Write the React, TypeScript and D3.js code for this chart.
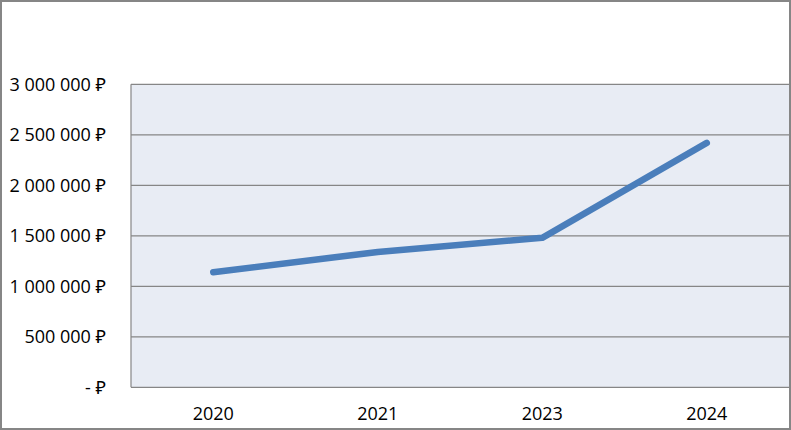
import React from "react";
import * as d3 from "d3";

const years = ["2020", "2021", "2023", "2024"];
const values = [1140000, 1340000, 1480000, 2420000];
const yTicks = [0, 500000, 1000000, 1500000, 2000000, 2500000, 3000000];

const W = 791;
const H = 430;
const plot = { left: 131, right: 789, top: 84.3, bottom: 387.3 };

const fmt = (v: number) =>
  v === 0 ? "- ₽" : d3.format(",")(v).replace(/,/g, " ") + " ₽";

export default function App() {
  const x = d3
    .scaleBand<string>()
    .domain(years)
    .range([plot.left, plot.right])
    .padding(0);
  const y = d3.scaleLinear().domain([0, 3000000]).range([plot.bottom, plot.top]);
  const line = d3
    .line<number>()
    .x((_, i) => (x(years[i]) as number) + x.bandwidth() / 2)
    .y((d) => y(d));
  const font = "'Open Sans', 'Noto Sans', sans-serif";
  return (
    <svg
      width={W}
      height={H}
      style={{ position: "absolute", left: 0, top: 0 }}
    >
      <rect x={0} y={0} width={W} height={H} fill="#fff" />
      <rect
        x={plot.left}
        y={plot.top}
        width={plot.right - plot.left}
        height={plot.bottom - plot.top}
        fill="#E8ECF4"
      />
      {yTicks.map((t) => (
        <g key={t}>
          <line
            x1={plot.left}
            x2={plot.right}
            y1={y(t)}
            y2={y(t)}
            stroke="#868686"
            strokeWidth={1.2}
          />
          <text
            x={106}
            y={y(t) + 6.5}
            textAnchor="end"
            fontFamily={font}
            fontSize={18}
            fill="#000"
          >
            {fmt(t)}
          </text>
        </g>
      ))}
      <line
        x1={plot.left}
        x2={plot.left}
        y1={plot.top}
        y2={plot.bottom}
        stroke="#868686"
        strokeWidth={1.2}
      />
      {years.map((yr) => (
        <text
          key={yr}
          x={(x(yr) as number) + x.bandwidth() / 2}
          y={419.8}
          textAnchor="middle"
          fontFamily={font}
          fontSize={18}
          fill="#000"
        >
          {yr}
        </text>
      ))}
      <path
        d={line(values) || ""}
        fill="none"
        stroke="#4A7EBB"
        strokeWidth={6.5}
        strokeLinecap="round"
        strokeLinejoin="round"
      />
      <rect
        x={1}
        y={1}
        width={W - 2}
        height={H - 2}
        fill="none"
        stroke="#868686"
        strokeWidth={2}
      />
    </svg>
  );
}
